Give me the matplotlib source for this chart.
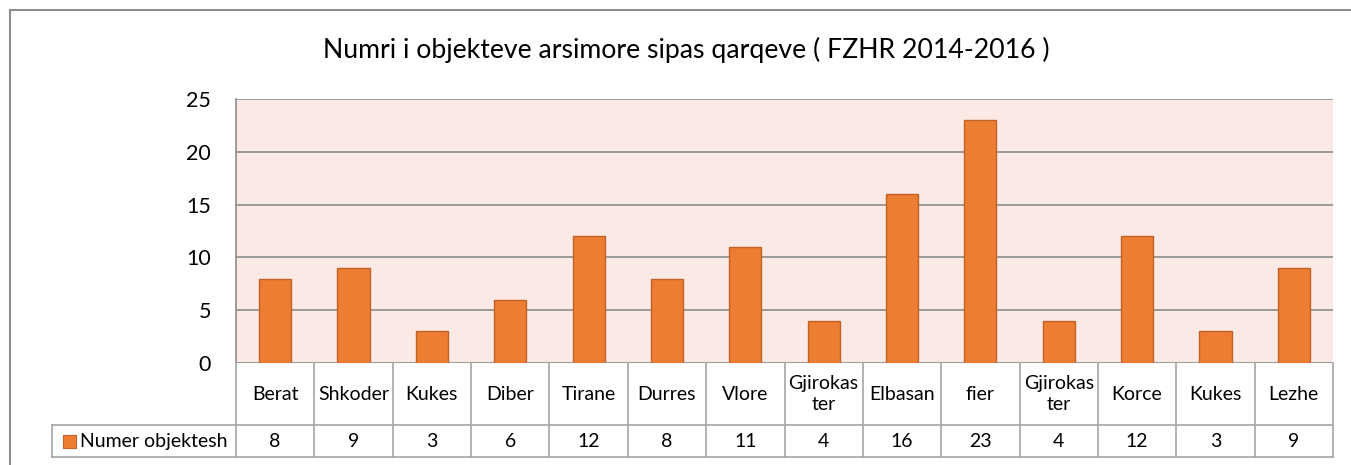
import matplotlib.pyplot as plt
import matplotlib.transforms as mtransforms
from matplotlib.lines import Line2D
from matplotlib.patches import Rectangle

plt.rcParams['font.family'] = ['Lato', 'DejaVu Sans']

# data
categories = ["Berat", "Shkoder", "Kukes", "Diber", "Tirane", "Durres", "Vlore",
              "Gjirokas\nter", "Elbasan", "fier", "Gjirokas\nter", "Korce", "Kukes", "Lezhe"]
values = [8, 9, 3, 6, 12, 8, 11, 4, 16, 23, 4, 12, 3, 9]
series_name = "Numer objektesh"
title = "Numri i objekteve arsimore sipas qarqeve ( FZHR 2014-2016 )"

W, H = 1351, 465
fig = plt.figure(figsize=(W / 100, H / 100), dpi=100)

# plot area in pixels
x0, x1, y0, y1 = 236, 1333, 99, 363
ax = fig.add_axes([x0 / W, 1 - y1 / H, (x1 - x0) / W, (y1 - y0) / H])
ax.set_facecolor("#fbe9e5")

n = len(categories)
xs = list(range(n))
ax.bar(xs, values, width=0.41, color="#ed7d31", edgecolor="#c0622a", linewidth=1, zorder=3)
ax.set_xlim(-0.5, n - 0.5)
ax.set_ylim(0, 25)
ax.set_yticks([0, 5, 10, 15, 20, 25])
ax.yaxis.grid(True, color="#8c8c8c", linewidth=1.2, zorder=1)
ax.tick_params(axis="y", length=0, labelsize=15.5, pad=18)
ax.tick_params(axis="x", length=0, labelbottom=False)
for s in ["top", "right", "bottom"]:
    ax.spines[s].set_visible(False)
ax.spines["left"].set_color("#8c8c8c")
ax.spines["left"].set_linewidth(1.2)

# data table under the axis
row1_bot, row2_bot = 425, 457
px = lambda y: 1 - y / H
grid_c = "#a6a6a6"
fig.add_artist(Line2D([x0 / W, x0 / W], [px(y1), px(row2_bot)], color=grid_c, lw=1.2))
fig.add_artist(Line2D([52 / W, x1 / W], [px(row1_bot), px(row1_bot)], color=grid_c, lw=1.2))
fig.add_artist(Line2D([52 / W, x1 / W], [px(row2_bot), px(row2_bot)], color=grid_c, lw=1.2))
fig.add_artist(Line2D([52 / W, 52 / W], [px(row1_bot), px(row2_bot)], color=grid_c, lw=1.2))
fig.add_artist(Line2D([x1 / W, x1 / W], [px(y1), px(row2_bot)], color=grid_c, lw=1.2))

trans = mtransforms.blended_transform_factory(ax.transData, fig.transFigure)
for i in range(1, n):
    ax.add_artist(Line2D([i - 0.5, i - 0.5], [px(y1), px(row2_bot)], color=grid_c, lw=1.2,
                         transform=trans, clip_on=False))
for i, (c, v) in enumerate(zip(categories, values)):
    ax.text(i, px((y1 + row1_bot) / 2), c, transform=trans, ha="center", va="center",
            fontsize=14, linespacing=1.35)
    ax.text(i, px((row1_bot + row2_bot) / 2), str(v), transform=trans, ha="center", va="center",
            fontsize=14)

# legend key in the table
fig.add_artist(Rectangle((63 / W, px(448)), 13 / W, 13 / H, facecolor="#ed7d31",
                         edgecolor="#c0622a", lw=0.8))
fig.text(80 / W, px((row1_bot + row2_bot) / 2), series_name, ha="left", va="center", fontsize=14)

# chart outer border
fig.add_artist(Line2D([10 / W, 10 / W], [px(10), 0], color="#8c8c8c", lw=1.5))
fig.add_artist(Line2D([10 / W, 1], [px(10), px(10)], color="#8c8c8c", lw=1.5))

fig.text(686 / W, px(50), title, ha="center", va="center", fontsize=19.2)

fig.savefig("out.png", dpi=100)
